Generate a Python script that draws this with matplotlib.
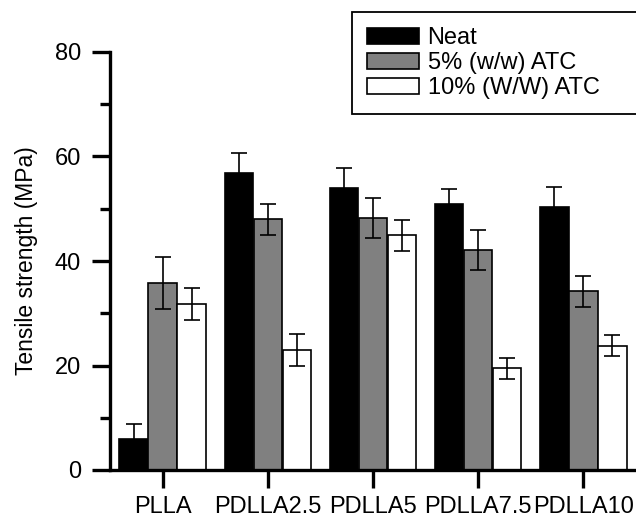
import numpy as np
import matplotlib
matplotlib.use("Agg")
import matplotlib.pyplot as plt
from matplotlib.ticker import MultipleLocator

plt.rcParams['font.family'] = ['Liberation Sans', 'DejaVu Sans']

samples = ["PLLA", "PDLLA2.5", "PDLLA5", "PDLLA7.5", "PDLLA10"]
series = ["Neat", "5% (w/w) ATC", "10% (W/W) ATC"]

neat = [6.0, 56.8, 54.0, 51.0, 50.4]
neat_err = [2.8, 3.8, 3.8, 2.8, 3.8]
atc5 = [35.8, 48.0, 48.2, 42.1, 34.2]
atc5_err = [5.0, 3.0, 3.8, 3.8, 3.0]
atc10 = [31.8, 23.0, 44.9, 19.5, 23.8]
atc10_err = [3.0, 3.0, 3.0, 2.0, 2.0]

colors = ["black", "#808080", "white"]

fig = plt.figure(figsize=(6.36, 5.22), dpi=100)
ax = fig.add_axes([110 / 636, 1 - 470 / 522, 526 / 636, 418 / 522])

x = np.arange(len(samples))
w = 0.27
for i, (vals, errs) in enumerate([(neat, neat_err), (atc5, atc5_err), (atc10, atc10_err)]):
    ax.bar(x + (i - 1) * w * 1.02, vals, w, color=colors[i], edgecolor="black",
           linewidth=1.2, label=series[i], zorder=2)
    ax.errorbar(x + (i - 1) * w * 1.02, vals, yerr=errs, fmt="none", ecolor="black",
                elinewidth=1.2, capsize=5.8, capthick=1.2, zorder=3)

ax.set_xlim(-0.5, 4.5)
ax.set_ylim(0, 80)
ax.set_xticks(x)
ax.set_xticklabels(samples)
ax.yaxis.set_major_locator(MultipleLocator(20))
ax.yaxis.set_minor_locator(MultipleLocator(10))

for s in ["top", "right"]:
    ax.spines[s].set_visible(False)
for s in ["left", "bottom"]:
    ax.spines[s].set_linewidth(2.4)

ax.tick_params(axis="both", which="major", direction="out", length=13, width=2.4,
               labelsize=17)
ax.tick_params(axis="y", which="minor", direction="out", length=7, width=2.4)
ax.tick_params(axis="x", which="major", pad=6)
ax.tick_params(axis="y", which="major", pad=8)

ax.set_ylabel("Tensile strength (MPa)", fontsize=16.5, labelpad=12)

# legend box runs off the right edge in the original
leg = ax.legend(loc="upper left", bbox_to_anchor=(352 / 636, 1 - 12 / 522, 0.5, 0),
                bbox_transform=fig.transFigure, mode="expand", fontsize=17,
                frameon=True, fancybox=False, edgecolor="black", framealpha=1,
                handlelength=2.2, handleheight=0.67, handletextpad=0.35,
                labelspacing=0.12, borderpad=0.65, borderaxespad=0)
leg.get_frame().set_linewidth(1.3)

fig.savefig("out.png", dpi=100)
